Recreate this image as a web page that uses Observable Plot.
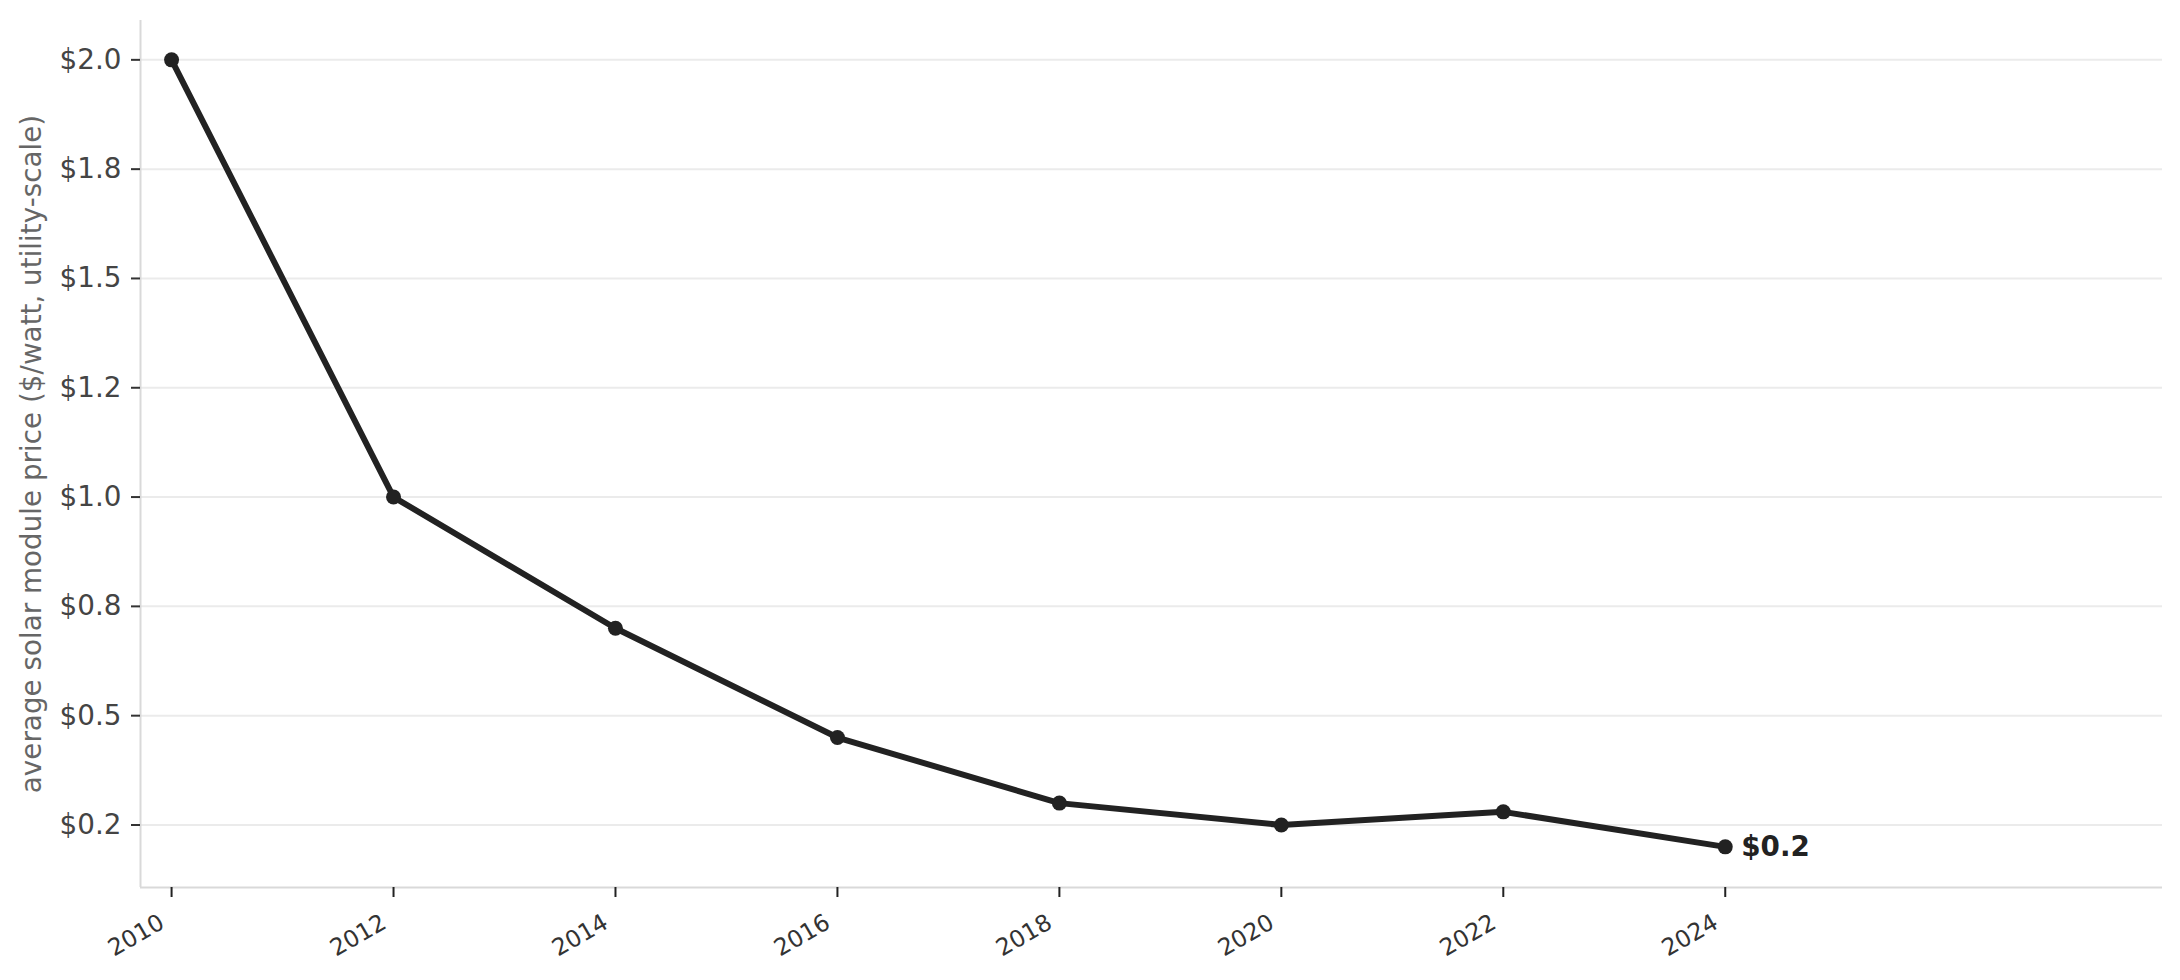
<!DOCTYPE html>
<html><head><meta charset="utf-8">
<script src="https://cdn.jsdelivr.net/npm/d3@7"></script>
<script src="https://cdn.jsdelivr.net/npm/@observablehq/plot@0.6"></script>
<style>body{margin:0;background:#fff;} svg{display:block}</style>
</head><body><div id="chart"></div>
<script>
const years = [2010, 2012, 2014, 2016, 2018, 2020, 2022, 2024];
const prices = [2.0, 1.0, 0.70, 0.45, 0.30, 0.25, 0.28, 0.20];
const yTicks = [0.25, 0.5, 0.75, 1.0, 1.25, 1.5, 1.75, 2.0];
const yTickLabels = ["$0.2", "$0.5", "$0.8", "$1.0", "$1.2", "$1.5", "$1.8", "$2.0"];
const xTicks = years;
const xTickLabels = ["2010", "2012", "2014", "2016", "2018", "2020", "2022", "2024"];
const xDomain = [2009.72, 2027.94];
const yDomain = [0.107, 2.09];
const yLabel = "average solar module price ($/watt, utility-scale)";
const endLabel = "$0.2";

const data = years.map((year, i) => ({year, price: prices[i]}));
const last = data[data.length - 1];
const yLabelMap = new Map(yTicks.map((t, i) => [t, yTickLabels[i]]));
const xLabelData = xTicks.map((t, i) => ({t, label: xTickLabels[i]}));

const chart = Plot.plot({
  width: 2180, height: 980,
  marginLeft: 140, marginRight: 18, marginTop: 20, marginBottom: 93,
  style: {fontFamily: "DejaVu Sans", background: "#fff"},
  x: {domain: xDomain},
  y: {domain: yDomain},
  marks: [
    Plot.gridY(yTicks, {stroke: "#ebebeb", strokeOpacity: 1, strokeWidth: 2}),
    Plot.ruleX([xDomain[0]], {stroke: "#d9d9d9", strokeWidth: 2}),
    Plot.ruleY([yDomain[0]], {stroke: "#d9d9d9", strokeWidth: 2}),
    Plot.axisY({ticks: yTicks, tickFormat: d => yLabelMap.get(d), tickSize: 9, tickPadding: 10,
      fontSize: 27.8, fill: "#444", stroke: "#333", strokeWidth: 2, label: null}),
    Plot.axisX({ticks: xTicks, tickFormat: () => "", tickSize: 10, tickPadding: 0,
      stroke: "#222", strokeWidth: 2, label: null}),
    Plot.text(xLabelData, {x: "t", text: "label", frameAnchor: "bottom", rotate: -30,
      textAnchor: "end", lineAnchor: "top", dx: -14, dy: 25, fontSize: 23.5, fill: "#333"}),
    Plot.text([yLabel], {text: d => d, frameAnchor: "left", textAnchor: "middle", rotate: -90, dx: -108,
      fontSize: 27.8, fill: "#666"}),
    Plot.line(data, {x: "year", y: "price", stroke: "#222", strokeWidth: 6}),
    Plot.dot(data, {x: "year", y: "price", r: 7.5, fill: "#222"}),
    Plot.text([last], {x: "year", y: "price", text: () => endLabel, textAnchor: "start", dx: 16,
      fontWeight: "bold", fontSize: 27.8, fill: "#222"})
  ]
});
document.getElementById("chart").appendChild(chart);
</script>
</body></html>
